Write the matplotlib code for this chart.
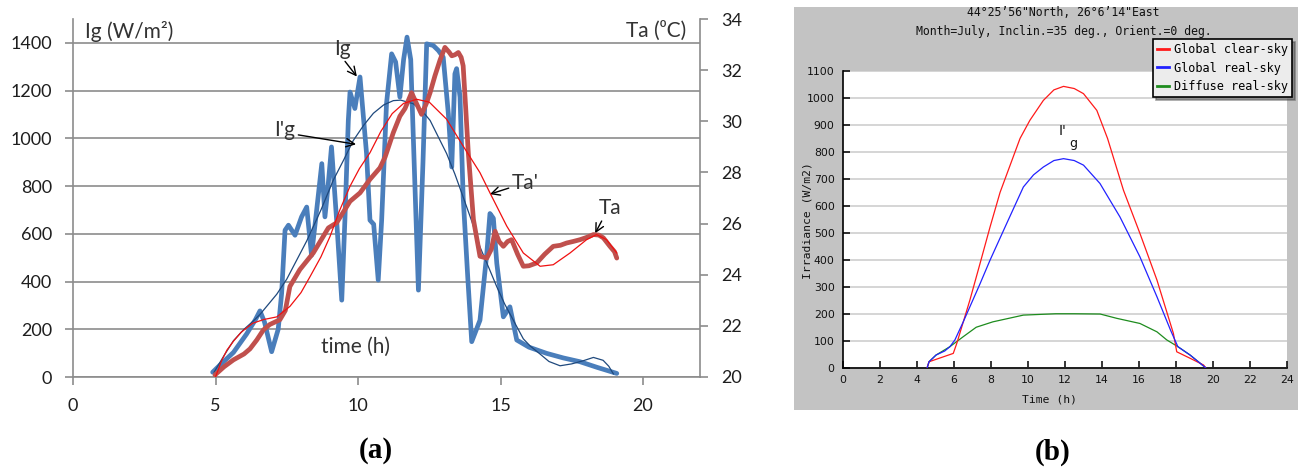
import matplotlib
matplotlib.use('Agg')
import matplotlib.pyplot as plt
from matplotlib.lines import Line2D
from matplotlib.patches import Rectangle

W, H, DPI = 1298, 468, 100

# ---------------- Panel (a) data ----------------
ig_t = [4.9, 5.2, 5.63, 6.09, 6.4, 6.56, 6.72, 6.97, 7.2, 7.32, 7.44, 7.56, 7.79, 8.02, 8.2,
        8.37, 8.55, 8.73, 8.84, 8.95, 9.07, 9.25, 9.43, 9.54, 9.66, 9.72, 9.89, 10.07, 10.3,
        10.42, 10.55, 10.71, 10.83, 11.0, 11.18, 11.32, 11.47, 11.6, 11.72, 11.85, 11.97, 12.12,
        12.28, 12.41, 12.64, 12.82, 12.99, 13.17, 13.29, 13.4, 13.46, 13.58, 13.69, 13.85, 13.99,
        14.28, 14.52, 14.63, 14.75, 14.87, 15.1, 15.33, 15.57, 16.0, 16.62, 17.2, 17.79, 18.4, 19.08]
ig_v = [20, 55, 103, 180, 240, 277, 230, 106, 200, 350, 615, 636, 594, 671, 712,
        510, 700, 894, 671, 800, 964, 657, 322, 657, 1075, 1194, 1125, 1257, 936,
        657, 640, 406, 657, 1145, 1354, 1320, 1173, 1330, 1424, 1330, 900, 364,
        900, 1396, 1389, 1368, 1340, 1103, 880, 1270, 1292, 1173, 754, 420, 148,
        238, 518, 685, 665, 476, 252, 294, 155, 125, 99, 80, 64, 40, 15]

igf_t = [4.95, 5.3, 5.63, 6.0, 6.33, 6.56, 7.15, 7.5, 8.2, 8.7, 9.13, 9.5, 9.83, 10.2, 10.54,
         10.9, 11.24, 11.5, 11.94, 12.25, 12.53, 12.8, 13.11, 13.4, 13.69, 14.0, 14.28, 14.6,
         14.87, 15.15, 15.45, 15.8, 16.04, 16.39, 16.7, 17.09, 17.5, 17.9, 18.26, 18.6, 18.8, 18.96]
igf_v = [20, 90, 152, 200, 235, 262, 347, 410, 570, 700, 824, 910, 990, 1055, 1105,
         1140, 1158, 1160, 1145, 1115, 1075, 1010, 936, 850, 754, 650, 545, 455,
         378, 305, 238, 160, 130, 96, 65, 47, 55, 68, 82, 70, 45, 13]

ta_t = [4.98, 5.3, 5.63, 6.0, 6.21, 6.45, 6.68, 6.9, 7.26, 7.45, 7.61, 7.96, 8.43, 8.96, 9.25,
        9.72, 10.07, 10.42, 10.77, 10.95, 11.24, 11.47, 11.65, 11.88, 12.05, 12.23, 12.4, 12.53,
        12.7, 12.88, 13.05, 13.2, 13.29, 13.4, 13.52, 13.62, 13.69, 13.78, 13.87, 14.05, 14.28,
        14.52, 14.68, 14.81, 14.95, 15.1, 15.25, 15.39, 15.6, 15.8, 16.0, 16.27, 16.55, 16.85,
        17.1, 17.32, 17.55, 17.79, 18.0, 18.26, 18.45, 18.61, 18.84, 19.0, 19.08]
ta_v = [20.08, 20.4, 20.67, 20.9, 21.1, 21.45, 21.84, 22.05, 22.24, 22.6, 23.54, 24.2, 24.85,
        25.83, 26.03, 26.87, 27.2, 27.73, 28.18, 28.6, 29.56, 30.2, 30.5, 31.12, 30.7, 30.27,
        30.7, 31.12, 31.78, 32.4, 32.89, 32.7, 32.56, 32.6, 32.69, 32.5, 32.17, 30.5, 28.77,
        26.16, 24.72, 24.65, 25.0, 25.7, 25.3, 25.11, 25.3, 25.37, 24.8, 24.33, 24.35, 24.46,
        24.8, 25.11, 25.15, 25.24, 25.3, 25.37, 25.45, 25.57, 25.55, 25.44, 25.11, 24.9, 24.65]

taf_t = [5.0, 5.2, 5.4, 5.63, 5.9, 6.3, 6.7, 7.15, 7.61, 8.0, 8.32, 8.7, 9.02, 9.35, 9.72, 10.05,
         10.42, 10.8, 11.2, 11.6, 12.06, 12.5, 13.11, 13.69, 14.28, 14.63, 15.22, 15.8, 16.39,
         16.85, 17.44, 18.02, 18.37, 18.72, 19.08]
taf_v = [20.0, 20.6, 21.05, 21.4, 21.75, 22.1, 22.25, 22.35, 22.76, 23.3, 23.93, 24.7, 25.5,
         26.5, 27.46, 28.15, 28.77, 29.6, 30.3, 30.7, 30.86, 30.75, 30.08, 29.03, 27.99, 27.2,
         25.9, 24.85, 24.33, 24.39, 24.85, 25.37, 25.57, 25.37, 24.85]

a_xticks = [0, 5, 10, 15, 20]
a_left_ticks = [0, 200, 400, 600, 800, 1000, 1200, 1400]
a_right_ticks = [20, 22, 24, 26, 28, 30, 32, 34]

# ---------------- Panel (b) data ----------------
clear_t = [4.55, 4.65, 5.96, 6.15, 6.86, 7.41, 7.95, 8.49, 9.03, 9.57, 10.1, 10.83, 11.4, 11.92,
           12.5, 13.0, 13.72, 14.3, 15.16, 16.05, 16.97, 17.86, 18.04, 18.76, 19.49, 19.6]
clear_v = [0, 22, 53, 90, 251, 387, 522, 650, 750, 850, 917, 991, 1030, 1043,
           1035, 1016, 954, 850, 658, 498, 325, 127, 59, 35, 10, 0]

real_t = [4.55, 4.65, 5.03, 5.5, 5.78, 6.05, 6.5, 6.86, 7.4, 7.95, 8.85, 9.75, 10.3, 10.83,
          11.4, 11.92, 12.5, 13.0, 13.89, 14.97, 16.05, 16.97, 17.7, 18.1, 18.76, 19.6]
real_v = [0, 22, 47, 62, 78, 103, 170, 226, 310, 399, 535, 670, 715, 744,
          768, 775, 768, 751, 683, 559, 411, 263, 140, 78, 47, 0]

diff_t = [4.55, 4.65, 5.03, 5.78, 6.5, 7.2, 8.1, 9.75, 11.5, 12.5, 13.9, 14.8, 16.05, 16.97,
          17.5, 18.1, 18.76, 19.6]
diff_v = [0, 22, 47, 78, 115, 150, 170, 195, 200, 200, 199, 183, 164, 133, 103, 78, 47, 0]

b_xticks = list(range(0, 25, 2))
b_yticks = list(range(0, 1101, 100))
b_labels = ['Global clear-sky', 'Global real-sky', 'Diffuse real-sky']

# ---------------- figure ----------------
fig = plt.figure(figsize=(W / DPI, H / DPI), dpi=DPI, facecolor='white')


def fx(px):
    return px / W


def fy(py):
    return 1 - py / H


SANS = ['Lato', 'DejaVu Sans']
GRID = '#8c8c8c'
TXT = '#1e1e1e'
LBL = '#333333'

# Panel (a)
ax = fig.add_axes([fx(73), fy(377), (700 - 73) / W, (377 - 19) / H])
ax.set_xlim(0, 22)
ax.set_ylim(0, 1500)
ax.set_xticks(a_xticks)
ax.set_yticks(a_left_ticks)
ax.yaxis.grid(True, color=GRID, lw=1.2)
ax.set_axisbelow(True)
for s in ['top', 'right']:
    ax.spines[s].set_visible(False)
for s in ['left', 'bottom']:
    ax.spines[s].set_color(GRID)
    ax.spines[s].set_linewidth(1.2)
ax.tick_params(axis='both', direction='out', length=6, width=1.2, color=GRID,
               labelsize=13, labelcolor=TXT, pad=9)
for lab in ax.get_xticklabels() + ax.get_yticklabels():
    lab.set_family(SANS)

ax2 = ax.twinx()
ax2.set_ylim(20, 34)
ax2.set_yticks(a_right_ticks)
for s in ['top', 'left', 'bottom']:
    ax2.spines[s].set_visible(False)
ax2.spines['right'].set_color(GRID)
ax2.spines['right'].set_linewidth(1.2)
ax2.tick_params(axis='y', direction='out', length=6, width=1.2, color=GRID,
                labelsize=13, labelcolor=TXT, pad=9)
for lab in ax2.get_yticklabels():
    lab.set_family(SANS)

ax.plot(ig_t, ig_v, color='#4A7EBB', lw=3.4, solid_joinstyle='round', solid_capstyle='round', zorder=2)
ax.plot(igf_t, igf_v, color='#1F497D', lw=0.9, zorder=3)
ax2.plot(ta_t, ta_v, color='#C0504D', lw=3.4, solid_joinstyle='round', solid_capstyle='round', zorder=2)
ax2.plot(taf_t, taf_v, color='#F01010', lw=0.9, zorder=3)

fig.text(fx(85), fy(32), 'Ig (W/m²)', ha='left', va='center', fontsize=15, color=LBL, family=SANS)
fig.text(fx(686), fy(31), 'Ta (⁰C)', ha='right', va='center', fontsize=15, color=LBL, family=SANS)
ax.text(9.9, 125, 'time (h)', ha='center', va='center', fontsize=15, color=LBL, family=SANS)

arrow = dict(arrowstyle='->', color='black', lw=1.0, shrinkA=0, shrinkB=0)
ax.annotate('Ig', xy=(9.96, 1259), xytext=(9.47, 1376), ha='center', va='center',
            fontsize=15, color=LBL, family=SANS,
            arrowprops=dict(arrow, relpos=(0.5, 0)))
ax.annotate("I'g", xy=(9.93, 975), xytext=(7.44, 1033), ha='center', va='center',
            fontsize=15, color=LBL, family=SANS,
            arrowprops=dict(arrow, relpos=(1.0, 0.3)))
ax.annotate("Ta'", xy=(14.63, 766), xytext=(15.86, 812), ha='center', va='center',
            fontsize=15, color=LBL, family=SANS,
            arrowprops=dict(arrow, relpos=(0.0, 0.3)))
ax.annotate('Ta', xy=(18.32, 602), xytext=(18.84, 707), ha='center', va='center',
            fontsize=15, color=LBL, family=SANS,
            arrowprops=dict(arrow, relpos=(0.2, 0.0)))

fig.text(fx(376), fy(450), '(a)', ha='center', va='center', fontsize=21,
         fontweight='bold', family='Liberation Serif')

# Panel (b)
bg = Rectangle((fx(794), fy(410)), (1298 - 794) / W, (410 - 7) / H,
               transform=fig.transFigure, facecolor='#c3c3c3', edgecolor='none', zorder=-5)
fig.patches.append(bg)
axb = fig.add_axes([fx(843), fy(367.7), (1287 - 843) / W, (367.7 - 71) / H])
axb.set_zorder(2)
axb.set_facecolor('white')
axb.set_xlim(0, 24)
axb.set_ylim(0, 1100)
axb.set_xticks(b_xticks)
axb.set_yticks(b_yticks)
axb.yaxis.grid(True, color='#d2d2d2', lw=1.3)
axb.set_axisbelow(True)
for s in ['top', 'right']:
    axb.spines[s].set_visible(False)
for s in ['left', 'bottom']:
    axb.spines[s].set_color('black')
    axb.spines[s].set_linewidth(1.2)
axb.tick_params(axis='both', direction='in', length=5, width=1.1, color='black',
                labelsize=7.8, labelcolor='#111111')
axb.tick_params(axis='x', pad=5)
axb.tick_params(axis='y', pad=6)

axb.plot(clear_t, clear_v, color='#ff1a1a', lw=0.9, label=b_labels[0], zorder=3)
axb.plot(real_t, real_v, color='#2222ff', lw=0.9, label=b_labels[1], zorder=3)
axb.plot(diff_t, diff_v, color='#1e8c1e', lw=0.9, label=b_labels[2], zorder=2)

MONO = 'DejaVu Sans Mono'
fig.text(fx(1063), fy(13), '44°25’56"North, 26°6’14"East', ha='center', va='center',
         fontsize=8.3, family=MONO, color='#111111')
fig.text(fx(1063.5), fy(32), 'Month=July, Inclin.=35 deg., Orient.=0 deg.', ha='center',
         va='center', fontsize=8.3, family=MONO, color='#111111')
fig.text(fx(807), fy(221), 'Irradiance (W/m2)', rotation=90, ha='center', va='center',
         fontsize=8.2, family=MONO, color='#111111')
fig.text(fx(1049), fy(399), 'Time (h)', ha='center', va='center',
         fontsize=8.2, family=MONO, color='#111111')
fig.text(fx(1063), fy(131), "I'", ha='center', va='center', fontsize=10, family='DejaVu Sans',
         color='#111111', zorder=5)
fig.text(fx(1073), fy(144), 'g', ha='center', va='center', fontsize=9, family='DejaVu Sans',
         color='#111111', zorder=5)

handles = [Line2D([], [], color=c, lw=2) for c in ['#ff1a1a', '#2222ff', '#1e8c1e']]
leg = fig.legend(handles, b_labels, loc='upper left', bbox_to_anchor=(fx(1153), fy(39)),
                 prop={'family': MONO, 'size': 8.6}, frameon=True, fancybox=False,
                 shadow=True, edgecolor='black', facecolor='#ececec', framealpha=1,
                 handlelength=1.0, handletextpad=0.4, borderpad=0.35, labelspacing=0.45,
                 borderaxespad=0)
leg.get_frame().set_linewidth(1.2)
leg.set_zorder(6)

fig.text(fx(1053), fy(452), '(b)', ha='center', va='center', fontsize=21,
         fontweight='bold', family='Liberation Serif')

fig.savefig('out.png', dpi=DPI, facecolor='white')
